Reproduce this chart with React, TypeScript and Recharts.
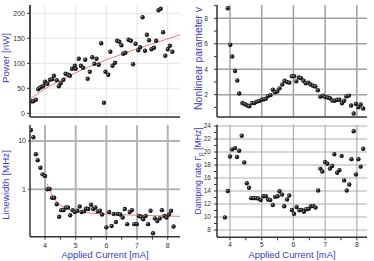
import React from "react";
import { ScatterChart, Scatter, XAxis, YAxis, ReferenceLine, Label } from "recharts";

// ---- data ----
const powerCurrent = [3.57, 3.62, 3.7, 3.78, 3.83, 3.9, 3.95, 4.0, 4.08, 4.16, 4.23, 4.29, 4.38, 4.45, 4.51, 4.6, 4.67, 4.76, 4.81, 4.88, 4.97, 5.0, 5.1, 5.17, 5.24, 5.31, 5.39, 5.46, 5.54, 5.61, 5.68, 5.75, 5.83, 5.92, 5.97, 6.06, 6.13, 6.2, 6.28, 6.35, 6.42, 6.49, 6.55, 6.62, 6.72, 6.8, 6.87, 6.95, 7.04, 7.1, 7.18, 7.26, 7.32, 7.39, 7.47, 7.55, 7.62, 7.7, 7.77, 7.85, 7.92, 8.0, 8.07, 8.15];
const powerValues = [24, 24, 27, 48, 51, 53, 55, 63, 59, 67, 68, 75, 66, 54, 60, 67, 79, 77, 75, 89, 95, 89, 109, 95, 91, 107, 69, 83, 112, 99, 109, 97, 140, 21, 83, 77, 123, 95, 101, 145, 143, 136, 119, 121, 147, 145, 98, 139, 126, 132, 192, 125, 157, 146, 128, 131, 145, 206, 209, 162, 115, 128, 135, 123];
const powerFitCurrent = [3.52, 4, 4.5, 5, 5.5, 6, 6.5, 7, 7.5, 8, 8.4];
const powerFitValues = [29, 49, 66, 81, 95, 107, 118, 129, 139, 149, 157];

const nonlinCurrent = [3.93, 4.01, 4.07, 4.16, 4.23, 4.29, 4.39, 4.47, 4.55, 4.61, 4.7, 4.77, 4.84, 4.92, 5.0, 5.07, 5.13, 5.2, 5.28, 5.35, 5.42, 5.49, 5.56, 5.65, 5.72, 5.8, 5.87, 5.95, 6.02, 6.09, 6.17, 6.24, 6.32, 6.39, 6.47, 6.54, 6.62, 6.69, 6.77, 6.85, 6.93, 7.0, 7.08, 7.15, 7.23, 7.3, 7.38, 7.45, 7.53, 7.6, 7.67, 7.75, 7.82, 7.9, 7.97, 8.05, 8.12, 8.2];
const nonlinValues = [8.8, 5.92, 5.0, 3.86, 3.12, 2.1, 1.35, 1.25, 1.15, 1.1, 1.35, 1.35, 1.45, 1.5, 1.6, 1.65, 1.68, 1.9, 1.97, 2.4, 2.2, 2.25, 2.5, 2.8, 3.1, 3.0, 2.95, 3.45, 3.45, 3.05, 3.35, 3.3, 3.1, 2.9, 2.95, 2.8, 2.7, 2.65, 2.35, 1.85, 1.93, 1.82, 1.78, 1.72, 1.55, 1.53, 1.6, 1.6, 1.33, 1.53, 1.87, 1.93, 1.15, 0.52, 1.28, 1.02, 1.23, 0.92];

const lwCurrent = [3.54, 3.62, 3.7, 3.76, 3.85, 3.92, 4.0, 4.08, 4.15, 4.23, 4.3, 4.38, 4.46, 4.53, 4.6, 4.68, 4.75, 4.82, 4.9, 4.97, 5.05, 5.13, 5.19, 5.27, 5.34, 5.41, 5.5, 5.57, 5.64, 5.72, 5.79, 5.86, 6.0, 6.09, 6.17, 6.24, 6.31, 6.37, 6.45, 6.53, 6.6, 6.68, 6.76, 6.83, 6.91, 6.99, 7.06, 7.14, 7.2, 7.28, 7.36, 7.44, 7.52, 7.58, 7.66, 7.74, 7.81, 7.89, 7.96, 8.04, 8.11, 8.19];
const lwValues = [16.9, 11.9, 5.3, 4.0, 2.8, 2.04, 1.88, 1.0, 1.02, 0.67, 0.67, 0.49, 0.27, 0.37, 0.37, 0.42, 0.42, 0.29, 0.37, 0.34, 0.36, 0.44, 0.34, 0.35, 0.4, 0.39, 0.48, 0.39, 0.42, 0.35, 0.36, 0.3, 0.163, 0.34, 0.174, 0.31, 0.21, 0.31, 0.3, 0.26, 0.39, 0.19, 0.34, 0.37, 0.19, 0.19, 0.28, 0.27, 0.24, 0.28, 0.19, 0.36, 0.123, 0.25, 0.22, 0.25, 0.37, 0.28, 0.26, 0.3, 0.36, 0.17];
const lwFitCurrent = [4.07, 4.15, 4.25, 4.35, 4.5, 4.75, 5, 5.5, 6, 7, 8, 8.4];
const lwFitValues = [1.3, 0.95, 0.72, 0.58, 0.47, 0.39, 0.35, 0.32, 0.31, 0.29, 0.28, 0.275];

const dampCurrent = [3.84, 3.93, 4.0, 4.07, 4.16, 4.22, 4.29, 4.37, 4.45, 4.53, 4.6, 4.67, 4.75, 4.82, 4.89, 4.97, 5.05, 5.13, 5.2, 5.27, 5.35, 5.42, 5.5, 5.56, 5.64, 5.71, 5.8, 5.87, 5.95, 6.02, 6.1, 6.19, 6.26, 6.33, 6.4, 6.48, 6.55, 6.63, 6.7, 6.78, 6.85, 6.91, 7.0, 7.07, 7.15, 7.22, 7.29, 7.38, 7.45, 7.52, 7.6, 7.68, 7.76, 7.83, 7.9, 7.97, 8.05, 8.12, 8.2];
const dampValues = [9.94, 14.0, 19.3, 20.4, 20.6, 19.24, 20.2, 22.5, 18.4, 15.2, 14.5, 12.9, 12.9, 12.9, 12.85, 12.6, 13.2, 13.2, 12.7, 12.6, 11.85, 13.1, 13.2, 13.97, 13.45, 11.65, 12.7, 13.3, 11.08, 10.5, 11.55, 11.03, 11.1, 10.8, 11.2, 11.25, 11.65, 11.7, 11.45, 14.08, 17.45, 17.0, 18.47, 18.2, 17.45, 17.85, 19.66, 16.8, 17.2, 19.4, 15.63, 14.08, 15.0, 18.9, 23.2, 16.55, 18.9, 17.75, 20.5];

const halfTicks = [4, 4.5, 5, 5.5, 6, 6.5, 7, 7.5, 8];
const intTicks = [4, 5, 6, 7, 8];
const powerTicks = [0, 50, 100, 150, 200];
const nonlinTicks = [1, 2, 3, 4, 5, 6, 7, 8, 9];
const nonlinGrid = [2, 4, 6, 8];
const lwTicks = [1, 10];
const dampTicks = [8, 9, 10, 11, 12, 13, 14, 15, 16, 17, 18, 19, 20, 21, 22, 23, 24];
const dampGrid = [8, 10, 12, 14, 16, 18, 20, 22, 24];

const FONT = '"Liberation Sans", Arial, sans-serif';
const BLUE = "#3b3bbf";
const AXIS = "#333";

const zip = (xs: number[], ys: number[]) => xs.map((x, i) => ({ x, y: ys[i] }));

const Ball = (p: any) => {
  if (p.cx == null || p.cy == null) return <g />;
  return (
    <g>
      <circle cx={p.cx} cy={p.cy} r={2.2} fill="#1b1b1b" />
      <circle cx={p.cx - 0.6} cy={p.cy - 0.6} r={0.8} fill="#9a9a9a" />
    </g>
  );
};
const Nothing = () => <g />;

// grid drawn as reference lines so that only chosen values get a line
const grid = (xs: number[], ys: number[], stroke: string, width: number) => [
  ...xs.map((v) => <ReferenceLine key={"gx" + v} x={v} stroke={stroke} strokeWidth={width} />),
  ...ys.map((v) => <ReferenceLine key={"gy" + v} y={v} stroke={stroke} strokeWidth={width} />),
];

// rotated axis title, centred on (viewBox.x + dx, cy)
const yTitle = (text: React.ReactNode, dx: number, cy: number, size: number) => (props: any) => {
  const x = (props.viewBox?.x ?? 0) + dx;
  return (
    <text x={x} y={cy} transform={`rotate(-90 ${x} ${cy})`} textAnchor="middle"
      dominantBaseline="central" fontSize={size} fill={BLUE} fontFamily={FONT}>
      {text}
    </text>
  );
};

const xTitle = (baseline: number) => (props: any) => {
  const vb = props.viewBox ?? { x: 0, y: 0, width: 0 };
  return (
    <text x={vb.x + vb.width / 2} y={vb.y + baseline} textAnchor="middle"
      fontSize={9.4} fill={BLUE} fontFamily={FONT}>
      Applied Current [mA]
    </text>
  );
};

const tickStyle = { fontSize: 7, fill: "#333", fontFamily: FONT };

const IntXTick = (p: any) => {
  const v = p.payload?.value;
  if (!Number.isInteger(v)) return <g />;
  return (
    <text x={p.x} y={p.y} dy="0.72em" textAnchor="middle" fontSize={7} fill="#333" fontFamily={FONT}>
      {v}
    </text>
  );
};

const EvenYTick = (p: any) => {
  const v = p.payload?.value;
  if (v % 2 !== 0) return <g />;
  return (
    <text x={p.x} y={p.y} dy="0.35em" textAnchor="end" fontSize={6.6} fill="#333" fontFamily={FONT}>
      {v}
    </text>
  );
};

const axisLine = { stroke: AXIS, strokeWidth: 1.5 };

export default function App() {
  return (
    <div style={{ position: "absolute", left: 0, top: 0, width: 374, height: 261, background: "#fff" }}>
      {/* top-left: power */}
      <div style={{ position: "absolute", left: 0, top: 0 }}>
        <ScatterChart width={185} height={122} margin={{ top: 5, right: 5, bottom: 0, left: 0 }}>
          {grid(intTicks, powerTicks, "#e4e4e4", 1)}
          <XAxis type="number" dataKey="x" domain={[3.51, 8.4]} allowDataOverflow ticks={halfTicks} interval={0}
            height={5} tick={false} tickSize={3} axisLine={axisLine} tickLine={{ stroke: AXIS }} />
          <YAxis type="number" dataKey="y" domain={[-7.4, 216.6]} allowDataOverflow ticks={powerTicks} interval={0}
            width={30} tickSize={3} tickMargin={2} tick={tickStyle}
            axisLine={{ stroke: "#444", strokeWidth: 2 }} tickLine={{ stroke: AXIS }}>
            <Label content={yTitle("Power [nW]", 5, 58, 9.7)} />
          </YAxis>
          <Scatter data={zip(powerFitCurrent, powerFitValues)} line={{ stroke: "#f07a7a", strokeWidth: 1 }}
            shape={Nothing} isAnimationActive={false} />
          <Scatter data={zip(powerCurrent, powerValues)} shape={Ball} isAnimationActive={false} />
        </ScatterChart>
      </div>

      {/* top-right: nonlinear parameter */}
      <div style={{ position: "absolute", left: 185, top: 0 }}>
        <ScatterChart width={189} height={122} margin={{ top: 5, right: 7, bottom: 0, left: 0 }}>
          {grid(intTicks, nonlinGrid, "#a0a0a0", 1.5)}
          <XAxis type="number" dataKey="x" domain={[3.59, 8.32]} allowDataOverflow ticks={halfTicks} interval={0}
            height={5} tick={false} tickSize={3} axisLine={axisLine} tickLine={{ stroke: AXIS }} />
          <YAxis type="number" dataKey="y" domain={[0.25, 9.05]} allowDataOverflow ticks={nonlinTicks} interval={0}
            width={32} tickSize={3} tickMargin={6} tick={<EvenYTick />} axisLine={axisLine} tickLine={{ stroke: AXIS }}>
            <Label content={yTitle("Nonlinear parameter v", 13.5, 58.5, 10.4)} />
          </YAxis>
          <Scatter data={zip(nonlinCurrent, nonlinValues)} shape={Ball} isAnimationActive={false} />
        </ScatterChart>
      </div>

      {/* bottom-left: linewidth (log) */}
      <div style={{ position: "absolute", left: 0, top: 120 }}>
        <ScatterChart width={185} height={141} margin={{ top: 5, right: 5, bottom: 0, left: 0 }}>
          {grid(intTicks, lwTicks, "#b4b4b4", 2)}
          <XAxis type="number" dataKey="x" domain={[3.51, 8.4]} allowDataOverflow ticks={halfTicks} interval={0}
            height={24.3} tick={<IntXTick />} tickSize={3} tickMargin={3} axisLine={axisLine} tickLine={{ stroke: AXIS }}>
            <Label content={xTitle(21)} />
          </XAxis>
          <YAxis type="number" dataKey="y" scale="log" domain={[0.1045, 21.4]} allowDataOverflow ticks={lwTicks} interval={0}
            width={30} tickSize={2} tickMargin={2} tick={tickStyle} axisLine={axisLine} tickLine={{ stroke: AXIS }}>
            <Label content={yTitle("Linewidth [MHz]", 5, 65, 9.8)} />
          </YAxis>
          <Scatter data={zip(lwFitCurrent, lwFitValues)} line={{ stroke: "#f07a7a", strokeWidth: 1 }}
            shape={Nothing} isAnimationActive={false} />
          <Scatter data={zip(lwCurrent, lwValues)} shape={Ball} isAnimationActive={false} />
        </ScatterChart>
      </div>

      {/* bottom-right: damping rate */}
      <div style={{ position: "absolute", left: 185, top: 120 }}>
        <ScatterChart width={189} height={141} margin={{ top: 4.7, right: 7, bottom: 0, left: 0 }}>
          {grid(intTicks, dampGrid, "#b0b0b0", 1.2)}
          <XAxis type="number" dataKey="x" domain={[3.59, 8.32]} allowDataOverflow ticks={halfTicks} interval={0}
            height={23.7} tick={<IntXTick />} tickSize={3} tickMargin={2} axisLine={axisLine} tickLine={{ stroke: AXIS }}>
            <Label content={xTitle(20.4)} />
          </XAxis>
          <YAxis type="number" dataKey="y" domain={[6.88, 24.2]} allowDataOverflow ticks={dampTicks} interval={0}
            width={32} tickSize={3} tickMargin={3} tick={<EvenYTick />} axisLine={axisLine} tickLine={{ stroke: AXIS }}>
            <Label content={yTitle(
              <>Damping rate Γ<tspan dy={2} fontSize={6.5}>p</tspan><tspan dy={-2}> [MHz]</tspan></>,
              12.5, 51, 8.6)} />
          </YAxis>
          <Scatter data={zip(dampCurrent, dampValues)} shape={Ball} isAnimationActive={false} />
        </ScatterChart>
      </div>
    </div>
  );
}
